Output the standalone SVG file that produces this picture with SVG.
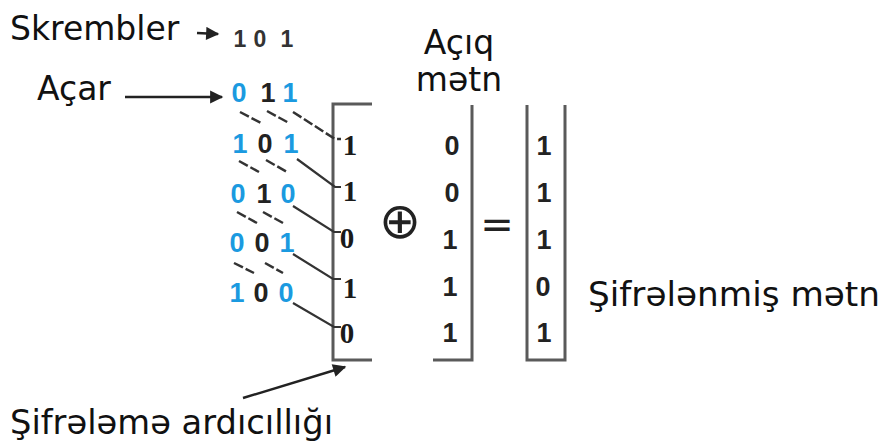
<svg xmlns="http://www.w3.org/2000/svg" width="884" height="448" viewBox="0 0 884 448">
  <defs>
    <marker id="arrow" viewBox="0 0 10 10" refX="9" refY="5" markerWidth="7" markerHeight="5.5" markerUnits="strokeWidth" orient="auto">
      <path d="M0,0 L10,5 L0,10 Z" fill="#222"/>
    </marker>
    <style>
      .label { font-family: "DejaVu Sans", "Noto Sans", sans-serif; font-size: 33px; fill: #111; }
      .bit { font-family: "Liberation Sans", "DejaVu Sans", sans-serif; font-weight: bold; font-size: 27px; text-anchor: middle; }
      .blue { fill: #1b9ae0; }
      .dark { fill: #222; }
      .seq { font-family: "Liberation Serif", "DejaVu Serif", serif; font-weight: bold; font-size: 29px; text-anchor: middle; fill: #1a1a1a; }
      .scr { font-family: "Liberation Sans", "DejaVu Sans", sans-serif; font-weight: bold; font-size: 23px; text-anchor: middle; fill: #333; }
      .shift { stroke: #333; stroke-width: 2.5; fill: none; stroke-dasharray: 10 3; }
      .feed { stroke: #333; stroke-width: 2.2; fill: none; }
      .bracket { stroke: #5a5a5a; stroke-width: 3; fill: none; }
      .pointer { stroke: #222; stroke-width: 2.4; fill: none; }
      .op { font-family: "DejaVu Sans", sans-serif; fill: #222; text-anchor: middle; }
    </style>
  </defs>

  <!-- labels -->
  <g id="label-skrembler">
    <text class="label" x="10" y="40">Skrembler</text>
  </g>
  <g id="label-acar">
    <text class="label" x="37" y="100">Açar</text>
  </g>
  <g id="label-aciq-metn">
    <text class="label" x="459" y="54" font-size="31" text-anchor="middle">Açıq</text>
    <text class="label" x="459" y="91" font-size="31" text-anchor="middle">mətn</text>
  </g>
  <g id="label-sifrelenmis-metn">
    <text class="label" x="588" y="306" textLength="292" lengthAdjust="spacingAndGlyphs">Şifrələnmiş mətn</text>
  </g>
  <g id="label-sifreleme-ardicilligi">
    <text class="label" x="10" y="434" textLength="323" lengthAdjust="spacingAndGlyphs">Şifrələmə ardıcıllığı</text>
  </g>

  <!-- scrambler state -->
  <g id="scrambler">
    <text class="scr" x="240" y="47">1</text>
    <text class="scr" x="260" y="47">0</text>
    <text class="scr" x="287" y="47">1</text>
  </g>

  <!-- shift register states -->
  <g id="register">
    <text class="bit blue" x="239" y="102">0</text>
    <text class="bit dark" x="268" y="102">1</text>
    <text class="bit blue" x="290" y="102">1</text>

    <text class="bit blue" x="240" y="153">1</text>
    <text class="bit dark" x="265" y="153">0</text>
    <text class="bit blue" x="291" y="153">1</text>

    <text class="bit blue" x="238" y="203">0</text>
    <text class="bit dark" x="264" y="203">1</text>
    <text class="bit blue" x="288" y="203">0</text>

    <text class="bit blue" x="237" y="252">0</text>
    <text class="bit dark" x="262" y="252">0</text>
    <text class="bit blue" x="287" y="252">1</text>

    <text class="bit blue" x="237" y="302">1</text>
    <text class="bit dark" x="261" y="302">0</text>
    <text class="bit blue" x="286" y="302">0</text>
  </g>

  <!-- encryption sequence column -->
  <g id="sequence">
    <polyline class="bracket" points="372,104 333,104 333,360 372,360"/>
    <text class="seq" x="350" y="155">1</text>
    <text class="seq" x="350" y="201">1</text>
    <text class="seq" x="347" y="248">0</text>
    <text class="seq" x="350" y="298">1</text>
    <text class="seq" x="347" y="343">0</text>
  </g>

  <!-- xor operator -->
  <g id="xor">
    <text class="op" x="400" y="238" font-size="50">⊕</text>
  </g>

  <!-- plaintext column -->
  <g id="plaintext">
    <polyline class="bracket" points="433,360 472,360 472,105"/>
    <text class="bit dark" x="452" y="155">0</text>
    <text class="bit dark" x="452" y="202">0</text>
    <text class="bit dark" x="450" y="249">1</text>
    <text class="bit dark" x="450" y="296">1</text>
    <text class="bit dark" x="450" y="342">1</text>
  </g>

  <!-- equals sign -->
  <g id="equals">
    <text class="op" x="497" y="238" font-size="40">=</text>
  </g>

  <!-- ciphertext column -->
  <g id="ciphertext">
    <polyline class="bracket" points="527,105 527,360 565,360 565,105"/>
    <text class="bit dark" x="544" y="155">1</text>
    <text class="bit dark" x="544" y="202">1</text>
    <text class="bit dark" x="544" y="249">1</text>
    <text class="bit dark" x="543" y="296">0</text>
    <text class="bit dark" x="544" y="342">1</text>
  </g>

  <!-- connectors -->
  <g id="connectors">
    <!-- label pointers -->
    <line class="pointer" x1="197" y1="33" x2="218" y2="34" stroke-width="3.2" marker-end="url(#arrow)"/>
    <line class="pointer" x1="125" y1="97" x2="222" y2="97" marker-end="url(#arrow)"/>
    <line class="pointer" x1="243" y1="398" x2="345" y2="367" marker-end="url(#arrow)"/>

    <!-- bit shifts between successive states -->
    <line class="shift" x1="240" y1="112" x2="261" y2="123"/>
    <line class="shift" x1="267" y1="111" x2="289" y2="123"/>
    <line class="shift" x1="239" y1="161" x2="259" y2="172"/>
    <line class="shift" x1="266" y1="160" x2="287" y2="172"/>
    <line class="shift" x1="237" y1="212" x2="257" y2="223"/>
    <line class="shift" x1="263" y1="212" x2="283" y2="223"/>
    <line class="shift" x1="234" y1="263" x2="254" y2="273"/>
    <line class="shift" x1="265" y1="263" x2="283" y2="273"/>

    <!-- output bit feeds into the sequence column -->
    <polyline class="shift" points="293,112 335,139 341,139"/>
    <polyline class="feed" points="297,159 335,187 341,187"/>
    <polyline class="feed" points="293,206 334,232 341,232"/>
    <polyline class="feed" points="293,254 333,279 341,279"/>
    <polyline class="feed" points="293,303 334,327 341,327"/>
  </g>
</svg>
